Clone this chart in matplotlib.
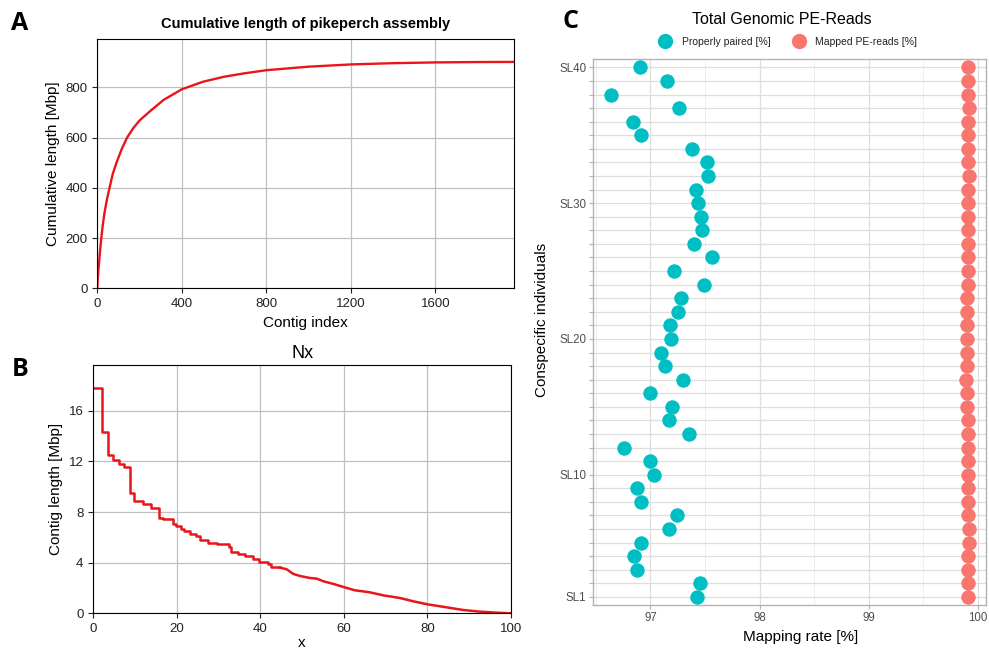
import matplotlib.pyplot as plt
from matplotlib.lines import Line2D

plt.rcParams['font.family'] = ['Liberation Sans', 'DejaVu Sans']

W, H = 989, 651

# -------------------------------
# Data
# -------------------------------
# A: cumulative assembly length along sorted contigs
cum_index = [0, 2, 4, 8, 13, 19, 26, 34, 46, 58, 73, 91, 115, 141, 170, 200,
             250, 314, 400, 500, 600, 700, 800, 1000, 1200, 1400, 1600, 1800,
             1975]
cum_mbp = [0, 35, 60, 100, 148, 200, 252, 300, 355, 400, 455, 500, 553, 600,
           637, 668, 705, 750, 792, 822, 842, 856, 868, 882, 891, 896, 899,
           900.5, 901]

# B: Nx curve, large contigs (step starts and lengths)
nx_step_x = [0, 2.1, 3.5, 4.8, 6.2, 7.4, 8.9, 9.8, 12.0, 13.9, 15.7, 16.7,
             19.0, 19.9, 21.1, 21.8, 23.1, 24.5, 25.5, 27.5, 29.7, 32.5, 33.1,
             34.7, 36.3, 38.2, 39.8, 41.8, 42.6, 44.7]
nx_step_len = [17.8, 14.32, 12.49, 12.15, 11.79, 11.6, 9.54, 8.91, 8.6, 8.33,
               7.57, 7.46, 7.09, 6.9, 6.64, 6.5, 6.3, 6.09, 5.77, 5.59, 5.45,
               5.24, 4.85, 4.66, 4.5, 4.32, 4.06, 3.87, 3.66, 3.66]
# B: Nx curve, tail of small contigs
nx_tail_x = [44.7, 46.3, 47.9, 49.5, 51.9, 53.5, 55.1, 57.5, 60.1, 62.6, 66.2,
             69.4, 73.4, 76.6, 80.0, 84.6, 88.6, 92.6, 96.6, 100]
nx_tail_len = [3.61, 3.48, 3.11, 2.95, 2.79, 2.74, 2.53, 2.32, 2.06, 1.82,
               1.66, 1.42, 1.21, 0.95, 0.71, 0.47, 0.26, 0.13, 0.05, 0.0]

# C: mapping rates per individual, SL1 .. SL40
individuals = ["SL%d" % i for i in range(1, 41)]
properly_paired = [97.43, 97.45, 96.88, 96.85, 96.91, 97.17, 97.24, 96.91,
                   96.88, 97.03, 97.00, 96.76, 97.35, 97.17, 97.20, 97.00,
                   97.30, 97.13, 97.10, 97.19, 97.18, 97.25, 97.28, 97.49,
                   97.22, 97.56, 97.40, 97.47, 97.46, 97.44, 97.42, 97.53,
                   97.52, 97.38, 96.91, 96.84, 97.26, 96.64, 97.15, 96.90]
mapped_reads = [99.91, 99.91, 99.91, 99.91, 99.92, 99.92, 99.91, 99.91,
                99.91, 99.91, 99.91, 99.91, 99.91, 99.91, 99.905, 99.905,
                99.89, 99.90, 99.90, 99.90, 99.90, 99.90, 99.90, 99.91,
                99.91, 99.91, 99.91, 99.91, 99.91, 99.91, 99.91, 99.92,
                99.91, 99.91, 99.91, 99.91, 99.92, 99.91, 99.91, 99.91]
shown_labels = {"SL1", "SL10", "SL20", "SL30", "SL40"}

RED = "#e8161b"
CYAN = "#00BFC4"
SALMON = "#F8766D"


def box(left, top, right, bottom):
    """Axes rectangle from pixel edges."""
    return [left / W, 1 - bottom / H, (right - left) / W, (bottom - top) / H]


fig = plt.figure(figsize=(W / 100, H / 100), dpi=100)

# -------------------------------
# A: cumulative length
# -------------------------------
axA = fig.add_axes(box(97.3, 39.3, 514.3, 288.3))
axA.plot(cum_index, cum_mbp, color=RED, linewidth=1.7)
axA.set_xlim(0, 1974)
axA.set_ylim(0, 991)
axA.set_xticks([0, 400, 800, 1200, 1600])
axA.set_yticks([0, 200, 400, 600, 800])
axA.grid(True, color="#c0c0c0", linewidth=0.9)
axA.set_axisbelow(True)
axA.tick_params(labelsize=9.5, colors="#222222")
axA.set_title("Cumulative length of pikeperch assembly", fontsize=10.5,
              fontweight="bold", pad=8)
axA.set_xlabel("Contig index", fontsize=11)
axA.set_ylabel("Cumulative length [Mbp]", fontsize=11)

# -------------------------------
# B: Nx
# -------------------------------
axB = fig.add_axes(box(93.2, 365.3, 511.0, 613.3))
axB.step(nx_step_x, nx_step_len, where="post", color=RED, linewidth=1.8)
axB.plot(nx_tail_x, nx_tail_len, color=RED, linewidth=1.8)
axB.set_xlim(0, 100)
axB.set_ylim(0, 19.6)
axB.set_xticks([0, 20, 40, 60, 80, 100])
axB.set_yticks([0, 4, 8, 12, 16])
axB.grid(True, color="#c0c0c0", linewidth=0.9)
axB.set_axisbelow(True)
axB.tick_params(labelsize=9.5, colors="#222222")
axB.set_title("Nx", fontsize=13, pad=5)
axB.set_xlabel("x", fontsize=11, labelpad=1)
axB.set_ylabel("Contig length [Mbp]", fontsize=11)

# -------------------------------
# C: mapping rates
# -------------------------------
axC = fig.add_axes(box(593.3, 59.3, 986.0, 605.0))
rows = list(range(1, len(individuals) + 1))
axC.scatter(properly_paired, rows, s=108, color=CYAN, linewidths=0, zorder=3)
axC.scatter(mapped_reads, rows, s=108, color=SALMON, linewidths=0, zorder=3)
axC.set_xlim(96.476, 100.075)
axC.set_ylim(0.4, 40.6)
axC.set_xticks([97, 98, 99, 100])
axC.set_xticks([96.5, 97.5, 98.5, 99.5], minor=True)
axC.set_yticks(rows)
axC.set_yticklabels([lab if lab in shown_labels else "" for lab in individuals])
axC.grid(True, which="major", color="#dedede", linewidth=0.9)
axC.grid(True, which="minor", axis="x", color="#e8e8e8", linewidth=0.5)
axC.set_axisbelow(True)
axC.tick_params(which="major", labelsize=8.3, colors="#b3b3b3",
                labelcolor="#4d4d4d", length=3, width=0.8, pad=2)
axC.tick_params(which="minor", length=0)
for sp in axC.spines.values():
    sp.set_color("#b3b3b3")
    sp.set_linewidth(1.0)

fig.text(782 / W, 1 - 19.5 / H, "Total Genomic PE-Reads", fontsize=11.5,
         ha="center", va="center")
fig.text(542 / W, 1 - 320 / H, "Conspecific individuals", fontsize=11,
         rotation=90, ha="center", va="center")
fig.text(801 / W, 1 - 637 / H, "Mapping rate [%]", fontsize=11,
         ha="center", va="center")

handles = [
    Line2D([], [], marker="o", linestyle="none", markersize=11,
           markerfacecolor=CYAN, markeredgewidth=0, label="Properly paired [%]"),
    Line2D([], [], marker="o", linestyle="none", markersize=11,
           markerfacecolor=SALMON, markeredgewidth=0, label="Mapped PE-reads [%]"),
]
fig.legend(handles=handles, loc="center", bbox_to_anchor=(788 / W, 1 - 41.7 / H),
           ncol=2, frameon=False, fontsize=7.5, handletextpad=1.0,
           columnspacing=2.1, handlelength=1.2, borderpad=0, labelcolor="#222222")

# -------------------------------
# Panel letters
# -------------------------------
for letter, x, y in [("A", 20, 23), ("B", 20, 369), ("C", 571, 22)]:
    fig.text(x / W, 1 - y / H, letter, fontsize=18, fontweight="bold",
             family=["Open Sans", "DejaVu Sans"], ha="center", va="center")

fig.savefig("out.png", dpi=100)
